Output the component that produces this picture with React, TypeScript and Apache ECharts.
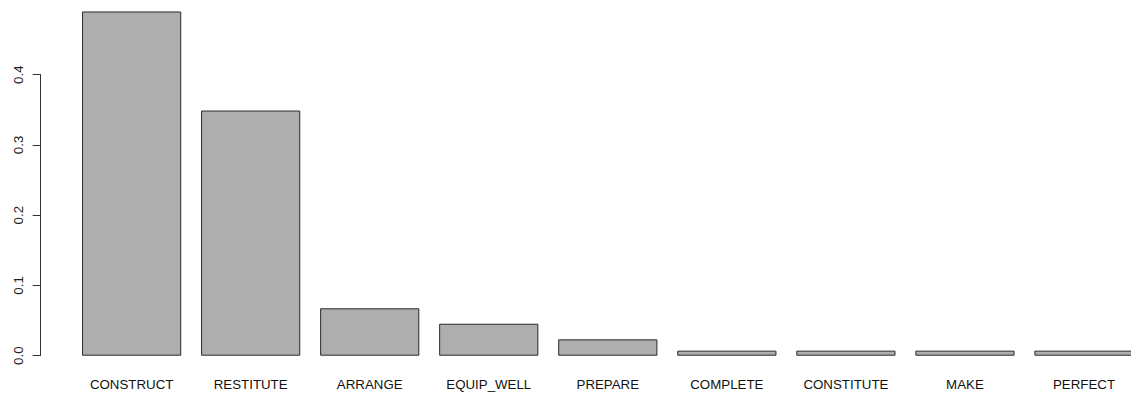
import React, { useEffect, useRef } from "react";
import * as echarts from "echarts";

const categories = [
  "CONSTRUCT",
  "RESTITUTE",
  "ARRANGE",
  "EQUIP_WELL",
  "PREPARE",
  "COMPLETE",
  "CONSTITUTE",
  "MAKE",
  "PERFECT",
];
const proportions = [0.49, 0.349, 0.0675, 0.0455, 0.0233, 0.0072, 0.0072, 0.0072, 0.0072];
const yTicks = [0, 0.1, 0.2, 0.3, 0.4];

const FONT = "'Liberation Sans', Arial, sans-serif";

export default function App() {
  const ref = useRef<HTMLDivElement>(null);

  useEffect(() => {
    if (!ref.current) return;
    const chart = echarts.init(ref.current, null, { renderer: "svg" });
    chart.setOption({
      animation: false,
      backgroundColor: "#ffffff",
      grid: {
        left: 72.1,
        top: 74.7,
        width: 1071.4,
        height: 281,
        containLabel: false,
        outerBoundsMode: "none",
      },
      xAxis: {
        type: "category",
        data: categories,
        axisLine: { show: false },
        axisTick: { show: false },
        axisLabel: {
          interval: 0,
          margin: 22,
          color: "#111111",
          fontFamily: FONT,
          fontSize: 13.3,
        },
      },
      yAxis: {
        type: "value",
        min: yTicks[0],
        max: yTicks[yTicks.length - 1],
        interval: 0.1,
        offset: 31.4,
        splitLine: { show: false },
        axisLine: { show: true, lineStyle: { color: "#333333", width: 1 } },
        axisTick: { show: true, inside: false, length: 8, lineStyle: { color: "#333333" } },
        axisLabel: {
          rotate: 90,
          margin: 16,
          color: "#222222",
          fontFamily: FONT,
          fontSize: 13.3,
          formatter: (v: number) => v.toFixed(1),
        },
      },
      series: [
        {
          type: "bar",
          data: proportions,
          barWidth: 99.2,
          clip: false,
          itemStyle: {
            color: "#aeaeae",
            borderColor: "#2a2a2a",
            borderWidth: 1,
          },
        },
      ],
    });
    return () => chart.dispose();
  }, []);

  return (
    <div
      ref={ref}
      style={{ position: "fixed", left: 0, top: 0, width: 1131, height: 395, background: "#fff" }}
    />
  );
}
